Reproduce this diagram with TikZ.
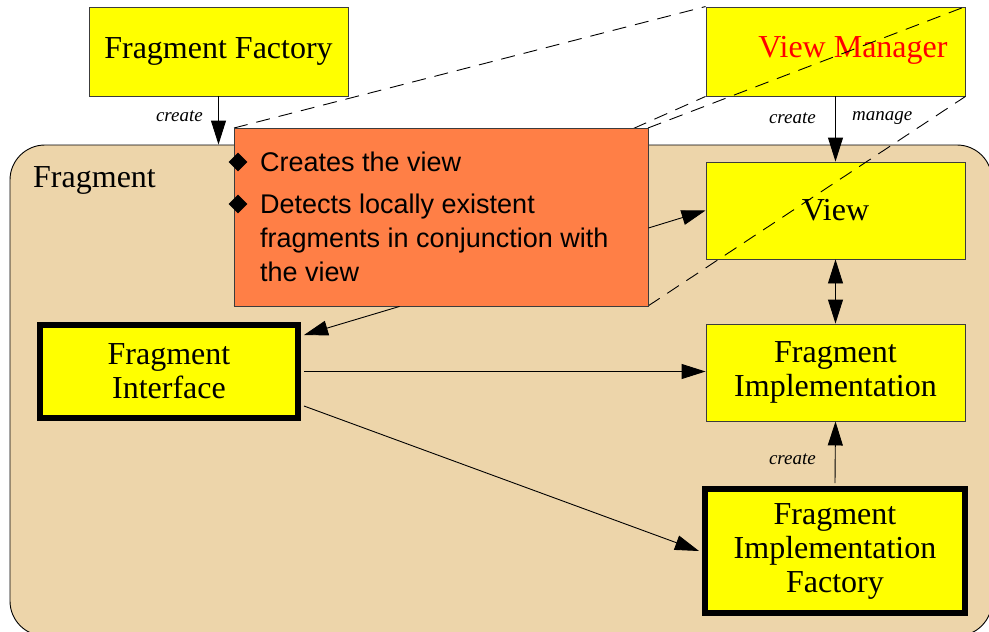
\documentclass[tikz,border=0pt]{standalone}
\usepackage{fontspec}
\setmainfont{Liberation Serif}
\newfontfamily\helv{Liberation Sans}
\usetikzlibrary{arrows.meta,shapes.geometric,calc}
\definecolor{tanbg}{RGB}{237,213,170}
\definecolor{orangebox}{RGB}{255,127,70}
\definecolor{ybox}{RGB}{255,255,0}
\definecolor{edgegrey}{RGB}{60,60,60}
\begin{document}
\begin{tikzpicture}[x=1pt,y=-1pt,
  box/.style={draw=edgegrey,line width=0.9pt,fill=ybox,inner sep=0pt,minimum width=259pt,align=center,font=\fontsize{32}{34}\selectfont},
  thickbox/.style={box,draw=black,line width=6pt},
  arr/.style={-{Triangle[length=24pt,width=15pt]},line width=0.9pt},
  dblarr/.style={{Triangle[length=24pt,width=15pt]}-{Triangle[length=24pt,width=15pt]},line width=0.9pt},
  lbl/.style={font=\fontsize{19}{21}\selectfont\itshape,inner sep=0pt},
  proj/.style={line width=0.9pt,dash pattern=on 14pt off 9pt},
  bullet/.style={diamond,fill=black,inner sep=0pt,minimum size=19pt},
  btext/.style={anchor=base west,inner sep=0pt,font=\helv\fontsize{27}{34}\selectfont}]
\useasboundingbox (0,0) rectangle (989,632);
% container
\node[draw=black,line width=0.9pt,fill=tanbg,rounded corners=35pt,minimum width=982pt,minimum height=491pt,inner sep=0pt] (frag) at (501,390.5) {};
\node[anchor=base west,inner sep=0pt,font=\fontsize{32}{34}\selectfont] (fraglbl) at (33,187) {Fragment};
% boxes
\node[box,minimum height=89pt] (FF) at (218.5,51.5) {Fragment Factory};
\node[box,minimum height=89pt] (VM) at (835.5,51.5) {};
\node[font=\fontsize{32}{34}\selectfont,text=red,inner sep=0pt] (VMtext) at (853,50) {View Manager};
\node[box,minimum height=97pt] (View) at (835.5,210.5) {View};
\node[box,minimum height=97pt] (FI) at (835.5,372.5) {Fragment\\Implementation};
\node[thickbox,minimum width=260pt,minimum height=124pt] (FIF) at (835,551) {Fragment\\Implementation\\Factory};
\node[thickbox,minimum width=258pt,minimum height=93pt] (FInt) at (169,371.5) {Fragment\\Interface};
% orange box corners (for projection lines)
\coordinate (oNW) at (234,128);
\coordinate (oNE) at (648,128);
\coordinate (oSW) at (234,306);
\coordinate (oSE) at (648,306);
% projection lines
\draw[proj] (oNW) -- (VM.north west);
\draw[proj] (oNE) -- (VM.north east);
\draw[proj] (oSW) -- (VM.south west);
\draw[proj] (oSE) -- (VM.south east);
% orange box
\node[draw=edgegrey,line width=0.9pt,fill=orangebox,minimum width=414pt,minimum height=178pt,inner sep=0pt] (orange) at (441,217) {};
\node[bullet] (b1) at (238,162) {};
\node[bullet] (b2) at (238,204) {};
\node[btext] (t1) at (260,171.5) {Creates the view};
\node[btext] (t2) at (260,213.5) {Detects locally existent};
\node[btext] (t3) at (260,247.5) {fragments in conjunction with};
\node[btext] (t4) at (260,281.5) {the view};
% connectors
\draw[arr] (FF.south) -- (FF.south |- frag.north);
\node[lbl,anchor=east] (c1) at (203,116) {create};
\draw[arr] (VM.south) -- (View.north);
\node[lbl,anchor=east] (c2) at (816,118) {create};
\node[lbl,anchor=west] (m1) at (852,118) {manage};
\draw[dblarr] (View.south) -- (FI.north);
\draw[arr] ([yshift=3pt]FIF.north) -- (FI.south);
\node[lbl,anchor=east] (c3) at (816,459) {create};
\draw[arr] ($(orange.south west)!0.4!(orange.south east)$) -- ([xshift=3pt,yshift=-13pt]FInt.north east);
\draw[arr] ([yshift=-11pt]orange.east) -- (View.west);
\draw[arr] ([xshift=3pt]FInt.east) -- (FInt.east -| FI.west);
\draw[arr] ([xshift=3pt,yshift=-34.5pt]FInt.east) -- ([xshift=-3pt]FIF.west);
\end{tikzpicture}
\end{document}
